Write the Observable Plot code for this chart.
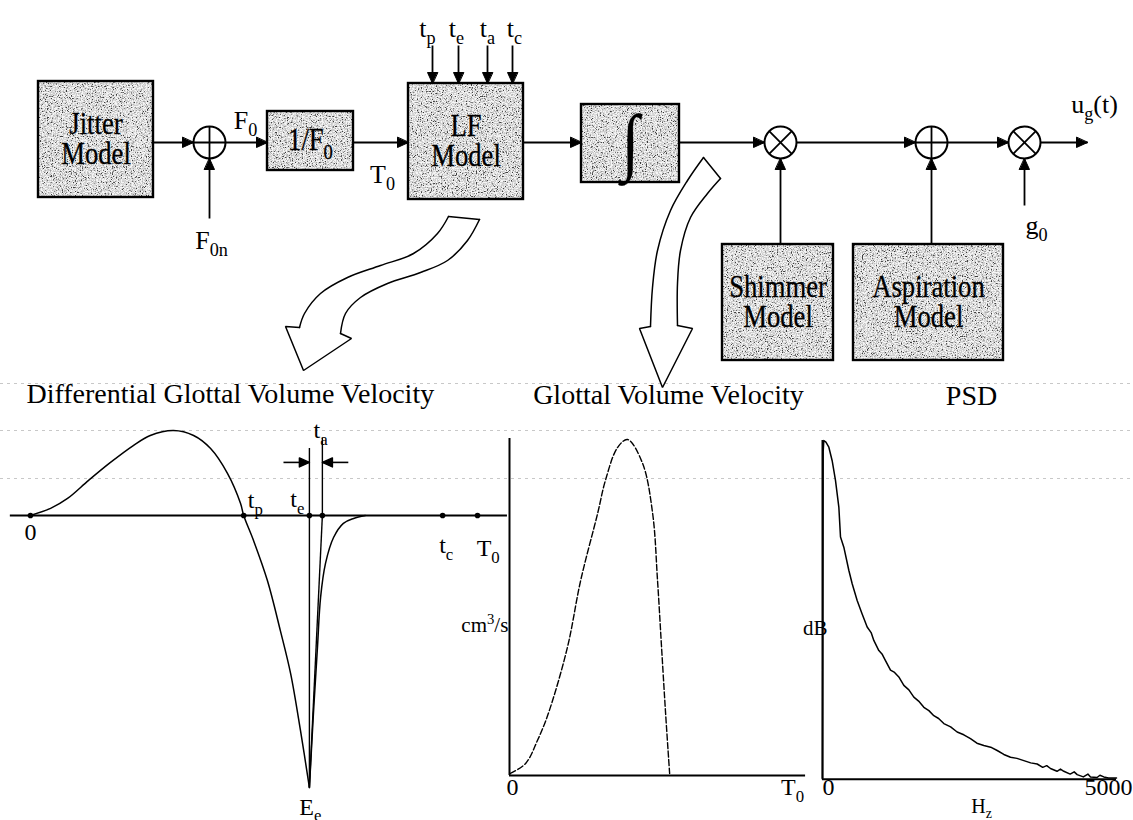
<!DOCTYPE html>
<html>
<head>
<meta charset="utf-8">
<script src="https://cdn.jsdelivr.net/npm/d3@7"></script>
<script src="https://cdn.jsdelivr.net/npm/@observablehq/plot@0.6"></script>
<style>
  body { margin: 0; background: #fff; }
  #figure { position: relative; width: 1133px; height: 820px; overflow: hidden; background: #fff; }
</style>
</head>
<body>
<!-- stippled grey texture used to fill the model blocks -->
<svg width="0" height="0" style="position:absolute" aria-hidden="true">
  <defs>
    <filter id="specks-dark" x="0" y="0" width="100%" height="100%" color-interpolation-filters="sRGB">
      <feTurbulence type="fractalNoise" baseFrequency="0.8" numOctaves="2" seed="4" result="noise"/>
      <feColorMatrix in="noise" type="matrix" values="0 0 0 0 0  0 0 0 0 0  0 0 0 0 0  -7 0 0 0 3.2" result="mask"/>
      <feComposite in="SourceGraphic" in2="mask" operator="in"/>
    </filter>
    <filter id="specks-light" x="0" y="0" width="100%" height="100%" color-interpolation-filters="sRGB">
      <feTurbulence type="fractalNoise" baseFrequency="0.8" numOctaves="2" seed="11" result="noise"/>
      <feColorMatrix in="noise" type="matrix" values="0 0 0 0 0  0 0 0 0 0  0 0 0 0 0  6 0 0 0 -2.6" result="mask"/>
      <feComposite in="SourceGraphic" in2="mask" operator="in"/>
    </filter>
    <pattern id="stipple" patternUnits="userSpaceOnUse" width="240" height="240">
      <rect width="240" height="240" fill="#cdcdcd"/>
      <rect width="240" height="240" fill="#3c3c3c" filter="url(#specks-dark)"/>
      <rect width="240" height="240" fill="#f6f6f6" filter="url(#specks-light)"/>
    </pattern>
  </defs>
</svg>
<div id="figure"></div>
<script>
const FONT = '"Liberation Serif", "Times New Roman", serif';

// ---------- block diagram of the glottal source synthesiser ----------
const blockLabels = ["Jitter\nModel", "1/F_{0}", "LF\nModel", "∫", "Shimmer\nModel", "Aspiration\nModel"];
// [left, right, top, bottom] of each block, diagram units
const blockEdges = [[38, 153, 81, 197], [267, 353, 111, 170], [408, 523, 83, 199],
                    [581, 679, 104, 182], [722, 833, 244, 360], [853, 1003, 244, 360]];
const junctionOps = ["+", "×", "+", "×"];
const junctionCentres = [[209, 142], [780, 142], [931, 142], [1024, 142]];
const junctionRadius = 16;
// signal paths [fromX, fromY, toX, toY], each ending in an arrowhead
const signalPaths = [
  [153, 142, 193, 142], [225, 142, 267, 142], [209, 218, 209, 158], [353, 142, 408, 142],
  [432, 45, 432, 83], [458, 45, 458, 83], [487, 45, 487, 83], [512, 45, 512, 83],
  [523, 142, 581, 142], [679, 142, 764, 142], [780, 244, 780, 158], [796, 142, 915, 142],
  [931, 244, 931, 158], [947, 142, 1008, 142], [1024, 205, 1024, 158], [1040, 142, 1087, 142]
];
const signalNames = ["F_{0}", "F_{0n}", "T_{0}", "t_{p}", "t_{e}", "t_{a}", "t_{c}", "u_{g}(t)", "g_{0}"];
const signalNameAt = [[245, 120], [211, 240], [382, 174], [427, 28], [456, 28], [487, 28], [514, 28], [1094, 104], [1036, 225]];
// hollow bent arrows leading from the blocks down to the plots
const lfArrowLeft  = [[448, 216], [437, 233], [413, 253], [380, 265], [347, 277], [320, 293], [304, 313], [299, 327]];
const lfArrowRight = [[479, 219], [467, 240], [447, 260], [420, 272], [387, 283], [360, 297], [345, 313], [340, 333]];
const lfArrowHead  = [[299, 327], [285, 326], [303, 370], [351, 338], [340, 333]];
const lfArrowTail  = [[448, 216], [479, 219]];
const intArrowLeft  = [[703, 157], [687, 180], [670, 210], [657, 250], [652, 287], [650, 326]];
const intArrowRight = [[720, 178], [707, 193], [690, 217], [680, 250], [677, 283], [677, 325]];
const intArrowHead  = [[650, 326], [639, 328], [662, 387], [692, 328], [677, 325]];
const intArrowTail  = [[703, 157], [720, 178]];
const ruledLines = [383, 430, 478];

// ---------- differential glottal volume velocity (LF model), time in periods ----------
const tp = 0.477, te = 0.624, ta = 0.029, tc = 0.922, T0 = 1;
const openTime = [0, 0.045, 0.083, 0.130, 0.179, 0.230, 0.268, 0.320, 0.365, 0.403, 0.441, 0.470, 0.477,
                  0.499, 0.530, 0.559, 0.582, 0.604, 0.624];
const openAmp  = [0, 0.026, 0.0625, 0.129, 0.195, 0.257, 0.294, 0.3125, 0.294, 0.246, 0.154, 0.044, 0,
                  -0.092, -0.239, -0.423, -0.581, -0.790, -1.0];
const returnTime = [0.624, 0.633, 0.642, 0.649, 0.660, 0.678, 0.700, 0.723, 0.749];
const returnAmp  = [-1.0, -0.728, -0.485, -0.301, -0.176, -0.081, -0.029, -0.011, 0];
const diffLabels = ["0", "t_{p}", "t_{e}", "t_{a}", "t_{c}", "T_{0}", "E_{e}"];
const diffLabelAt = [[0, -0.0625], [0.503, 0.055], [0.597, 0.059], [0.649, 0.3125], [0.93, -0.11], [1.024, -0.121], [0.626, -1.072]];

// ---------- glottal volume velocity ----------
const flowTime = [0.003, 0.056, 0.097, 0.135, 0.201, 0.247, 0.306, 0.333, 0.375, 0.410, 0.462, 0.497, 0.514, 0.528, 0.542, 0.556];
const flowAmp  = [0.006, 0.036, 0.104, 0.185, 0.381, 0.580, 0.780, 0.878, 0.976, 1.0, 0.929, 0.780, 0.580, 0.381, 0.185, 0.006];

// ---------- power spectral density ----------
const psdFreq = [0, 12, 23, 60, 111, 169, 227, 286, 315, 373, 460, 519, 606, 693, 781, 850, 897, 985, 1040, 1101,
                 1189, 1260, 1334, 1422, 1510, 1597, 1680, 1772, 1860, 1946, 2030, 2121, 2240, 2354, 2470, 2587,
                 2700, 2820, 2940, 3054, 3170, 3287, 3400, 3520, 3640, 3753, 3850, 3920, 3986, 4100, 4160, 4219,
                 4330, 4400, 4452, 4560, 4640, 4685, 4800, 4850, 4918, 5000, 5140];
const psdDb   = [-60.3, -2, 0, -0.3, -1.2, -3.6, -7.1, -11.9, -17.2, -19.0, -23.1, -25.5, -28.5, -30.9, -33.2, -34.2,
                 -35.6, -37.4, -38.0, -39.2, -40.9, -41.3, -42.1, -43.6, -44.4, -45.7, -46.4, -47.5, -48.1, -49.0,
                 -49.5, -50.4, -51.0, -51.9, -52.4, -53.1, -53.9, -54.3, -54.6, -55.2, -55.9, -56.4, -56.6, -57.0,
                 -57.4, -57.6, -58.2, -57.9, -58.4, -58.9, -58.5, -58.9, -59.4, -59.0, -59.5, -59.9, -59.4, -59.9,
                 -60.0, -59.6, -59.9, -60.1, -60.1];

const titles = ["Differential Glottal Volume Velocity", "Glottal Volume Velocity", "PSD"];

// ---------- helpers ----------
const SVGNS = "http://www.w3.org/2000/svg";
const figure = document.getElementById("figure");

// filled triangular arrowhead at (x2, y2); kx, ky convert pixels to data units
function arrowHead(x1, y1, x2, y2, id, kx = 1, ky = 1, len = 11, wid = 10) {
  const dx = (x2 - x1) * kx, dy = (y2 - y1) * ky, n = Math.hypot(dx, dy);
  const ux = dx / n, uy = dy / n;
  const bx = -ux * len, by = -uy * len;
  return [[0, 0], [bx - uy * wid / 2, by + ux * wid / 2], [bx + uy * wid / 2, by - ux * wid / 2]]
    .map(([px, py]) => ({id, x: x2 + px / kx, y: y2 + py / ky}));
}
const toPoints = (pts, id) => pts.map(([x, y]) => ({id, x, y}));

// turn "X_{s}rest" / "X^{s}" into sub/superscripts
function richText(svg) {
  svg.querySelectorAll("text").forEach(el => {
    if (el.querySelector("tspan")) return;
    const m = el.textContent.match(/^(.*?)([_^])\{(.*?)\}(.*)$/);
    if (!m) return;
    const [, base, kind, script, rest] = m;
    const fs = parseFloat(getComputedStyle(el).fontSize);
    const shift = kind === "_" ? 0.27 * fs : -0.42 * fs;
    el.textContent = base;
    const s = document.createElementNS(SVGNS, "tspan");
    s.setAttribute("font-size", 0.7 * fs);
    s.setAttribute("dy", shift);
    s.textContent = script;
    el.append(s);
    if (rest) {
      const r = document.createElementNS(SVGNS, "tspan");
      r.setAttribute("dy", -shift);
      r.textContent = rest;
      el.append(r);
    }
  });
}

// block captions are set in a narrow, tall face
function condense(svg, factor) {
  svg.querySelectorAll('g[aria-description="block-label"] text').forEach(el => {
    const tr = el.getAttribute("transform") || "";
    el.setAttribute("transform", `${tr} scale(${factor},1)`);
  });
}

function place(svg, left, top) {
  svg.style.position = "absolute";
  svg.style.left = left + "px";
  svg.style.top = top + "px";
  figure.append(svg);
  richText(svg);
  condense(svg, 0.86);
}

const baseStyle = {background: "transparent", fontFamily: FONT, overflow: "visible", maxWidth: "none", color: "black"};

// ---------- diagram ----------
const blocks = blockLabels.map((label, i) => {
  const [x1, x2, y1, y2] = blockEdges[i];
  return {label, x1, x2, y1, y2, cx: (x1 + x2) / 2, cy: (y1 + y2) / 2, size: label === "∫" ? 74 : 31};
});
const junctions = junctionOps.map((op, i) => ({op, x: junctionCentres[i][0], y: junctionCentres[i][1]}));
const strokesInside = junctions.flatMap(({op, x, y}) => {
  const r = junctionRadius;
  if (op === "+") return [{x1: x - r, y1: y, x2: x + r, y2: y}, {x1: x, y1: y - r, x2: x, y2: y + r}];
  const d = r * Math.SQRT1_2;
  return [{x1: x - d, y1: y - d, x2: x + d, y2: y + d}, {x1: x - d, y1: y + d, x2: x + d, y2: y - d}];
});
const paths = signalPaths.map(([x1, y1, x2, y2]) => ({x1, y1, x2, y2}));
const heads = signalPaths.flatMap(([x1, y1, x2, y2], i) => arrowHead(x1, y1, x2, y2, i));
const names = signalNames.map((text, i) => ({text, x: signalNameAt[i][0], y: signalNameAt[i][1]}));
const bentEdges = [
  ...toPoints(lfArrowLeft, "lfL"), ...toPoints(lfArrowRight, "lfR"),
  ...toPoints(intArrowLeft, "intL"), ...toPoints(intArrowRight, "intR")
];
const bentCorners = [
  ...toPoints(lfArrowHead, "lfH"), ...toPoints(lfArrowTail, "lfT"),
  ...toPoints(intArrowHead, "intH"), ...toPoints(intArrowTail, "intT")
];

const diagram = Plot.plot({
  width: 1133, height: 820, margin: 0,
  x: {domain: [0, 1133], range: [0, 1133], axis: null},
  y: {domain: [0, 820], range: [0, 820], axis: null},
  style: baseStyle,
  marks: [
    Plot.ruleY(ruledLines, {stroke: "#9a9a9a", strokeOpacity: 0.55, strokeDasharray: "3,4"}),
    Plot.link(paths, {x1: "x1", y1: "y1", x2: "x2", y2: "y2", stroke: "black", strokeWidth: 1.8}),
    Plot.line(heads, {x: "x", y: "y", z: "id", curve: "linear-closed", fill: "black", stroke: "black", strokeWidth: 1}),
    Plot.rect(blocks, {x1: "x1", x2: "x2", y1: "y1", y2: "y2", fill: "url(#stipple)", stroke: "black", strokeWidth: 2.4}),
    Plot.text(blocks, {x: "cx", y: "cy", text: "label", fontSize: "size", lineHeight: 0.95, fill: "black",
                       stroke: "black", strokeWidth: 0.3, ariaDescription: "block-label"}),
    Plot.dot(junctions, {x: "x", y: "y", r: junctionRadius, fill: "white", stroke: "black", strokeWidth: 2}),
    Plot.link(strokesInside, {x1: "x1", y1: "y1", x2: "x2", y2: "y2", stroke: "black", strokeWidth: 1.8}),
    Plot.text(names, {x: "x", y: "y", text: "text", fontSize: 26, fill: "black"}),
    Plot.line(bentEdges, {x: "x", y: "y", z: "id", curve: "catmull-rom", stroke: "black", strokeWidth: 1.5}),
    Plot.line(bentCorners, {x: "x", y: "y", z: "id", curve: "linear", stroke: "black", strokeWidth: 1.5, strokeLinejoin: "miter"})
  ]
});
place(diagram, 0, 0);

// ---------- panel 1: differential glottal volume velocity ----------
{
  const W = 515, H = 440, xd = [-0.067, 1.085], yd = [-1.121, 0.496];
  const kx = W / (xd[1] - xd[0]), ky = -H / (yd[1] - yd[0]);
  const opening = openTime.map((t, i) => ({t, a: openAmp[i]}));
  const closing = returnTime.map((t, i) => ({t, a: returnAmp[i]}));
  const marks = [0, tp, te, te + ta, tc, T0];
  const spanArrows = [[0.566, 0.195, te, 0.195], [0.711, 0.195, te + ta, 0.195]];
  const spanHeads = spanArrows.flatMap(([x1, y1, x2, y2], i) => arrowHead(x1, y1, x2, y2, i, kx, ky, 10, 9));
  const labels = diffLabels.map((text, i) => ({text, t: diffLabelAt[i][0], a: diffLabelAt[i][1]}));
  const plot = Plot.plot({
    width: W, height: H, margin: 0,
    x: {domain: xd, axis: null}, y: {domain: yd, axis: null},
    style: baseStyle,
    marks: [
      Plot.ruleY([0], {x1: -0.045, x2: 1.067, stroke: "black", strokeWidth: 2}),
      Plot.line(opening, {x: "t", y: "a", curve: "catmull-rom", stroke: "black", strokeWidth: 1.5}),
      Plot.line(closing, {x: "t", y: "a", curve: "catmull-rom", stroke: "black", strokeWidth: 1.5}),
      Plot.ruleX([te], {y1: -1.0, y2: 0.246, stroke: "black", strokeWidth: 1.4}),
      Plot.link([{x1: te, y1: -1.0, x2: te + ta, y2: 0}], {x1: "x1", y1: "y1", x2: "x2", y2: "y2", stroke: "black", strokeWidth: 1.4}),
      Plot.ruleX([te + ta], {y1: 0, y2: 0.283, stroke: "black", strokeWidth: 1.4}),
      Plot.link(spanArrows.map(([x1, y1, x2, y2]) => ({x1, y1, x2, y2})), {x1: "x1", y1: "y1", x2: "x2", y2: "y2", stroke: "black", strokeWidth: 1.6}),
      Plot.line(spanHeads, {x: "x", y: "y", z: "id", curve: "linear-closed", fill: "black", stroke: "black"}),
      Plot.dot(marks, {x: d => d, y: 0, r: 2.8, fill: "black", stroke: "none"}),
      Plot.text(labels, {x: "t", y: "a", text: "text", fontSize: 24, fill: "black"}),
      Plot.text([titles[0]], {x: 0.447, y: 0.445, text: d => d, fontSize: 28, fill: "black"})
    ]
  });
  place(plot, 0, 380);
}

// ---------- panel 2: glottal volume velocity ----------
{
  const flow = flowTime.map((t, i) => ({t, v: flowAmp[i]}));
  const plot = Plot.plot({
    width: 340, height: 440, margin: 0,
    x: {domain: [-0.1354, 1.0451], axis: null}, y: {domain: [-0.1339, 1.1756], axis: null},
    style: baseStyle,
    marks: [
      Plot.ruleY([0], {x1: 0, x2: 1.028, stroke: "black", strokeWidth: 2}),
      Plot.ruleX([0], {y1: 0, y2: 1.003, stroke: "black", strokeWidth: 2}),
      Plot.line(flow, {x: "t", y: "v", curve: "catmull-rom", stroke: "black", strokeWidth: 1.4, strokeDasharray: "6,2.5"}),
      Plot.text(["0"], {x: 0.01, y: -0.036, text: d => d, fontSize: 24, fill: "black"}),
      Plot.text(["T_{0}"], {x: 0.983, y: -0.036, text: d => d, fontSize: 24, fill: "black"}),
      Plot.text(["cm^{3}/s"], {x: -0.004, y: 0.446, text: d => d, fontSize: 21, textAnchor: "end", fill: "black"}),
      Plot.text([titles[1]], {x: 0.552, y: 1.131, text: d => d, fontSize: 28, fill: "black"})
    ]
  });
  place(plot, 470, 380);
}

// ---------- panel 3: power spectral density ----------
{
  const psd = psdFreq.map((f, i) => ({f, db: psdDb[i]}));
  const plot = Plot.plot({
    width: 343, height: 440, margin: 0,
    x: {domain: [-559.4, 5437], axis: null}, y: {domain: [-67.66, 10.68], axis: null},
    style: baseStyle,
    marks: [
      Plot.ruleY([-60.3], {x1: 0, x2: 5140, stroke: "black", strokeWidth: 2}),
      Plot.ruleX([0], {y1: -60.3, y2: 0, stroke: "black", strokeWidth: 2}),
      Plot.line(psd, {x: "f", y: "db", curve: "linear", stroke: "black", strokeWidth: 1.5}),
      Plot.text(["0"], {x: 105, y: -61.8, text: d => d, fontSize: 24, fill: "black"}),
      Plot.text(["5000"], {x: 5000, y: -61.8, text: d => d, fontSize: 24, fill: "black"}),
      Plot.text(["H_{z}"], {x: 2780, y: -65.2, text: d => d, fontSize: 20, fill: "black"}),
      Plot.text(["dB"], {x: 87, y: -33.5, text: d => d, fontSize: 21, textAnchor: "end", fill: "black"}),
      Plot.text([titles[2]], {x: 2605, y: 8.0, text: d => d, fontSize: 28, fill: "black"})
    ]
  });
  place(plot, 790, 380);
}
</script>
</body>
</html>
